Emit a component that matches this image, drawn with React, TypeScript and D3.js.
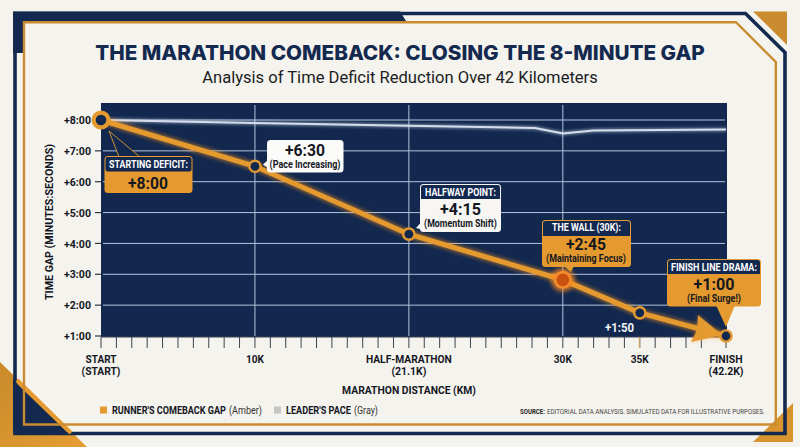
import { useLayoutEffect, useRef, useState } from "react";
import * as d3 from "d3";

const WIDTH = 800;
const HEIGHT = 447;

const NAVY = "#12284f";
const FRAME_NAVY = "#13294f";
const AMBER = "#e59a30";
const FRAME_AMBER = "#cb8c2f";
const PAPER = "#f5f3ee";
const INK = "#14171f";
const GRID = "#b4c4de";

// distance as laid out on the axis (one tick = one unit), the axis is not quite true to km
const AXIS_MAX = 40.6;
const MILESTONES = [0, 10, 20, 30, 35, 40.6];
const MILESTONE_LABELS = [
  ["START", "(START)"],
  ["10K"],
  ["HALF-MARATHON", "(21.1K)"],
  ["30K"],
  ["35K"],
  ["FINISH", "(42.2K)"],
];
const MILESTONE_WIDTHS = [
  [31, 39],
  [18],
  [86, 35],
  [18],
  [18],
  [33, 35],
];

// gap in minutes
const RUNNER_GAP = [8, 6.5, 4.3, 2.82, 1.75, 1];
const LEADER_POS = [0, 10, 20, 28.2, 30, 32, 40.6];
const LEADER_GAP = [8, 7.9, 7.81, 7.74, 7.56, 7.66, 7.69];
const Y_TICKS = [8, 7, 6, 5, 4, 3, 2, 1];
const GRID_MINUTES = [8, 7, 6, 5, 4, 3, 2];
const GRID_KM = [10, 20, 30];

const x = d3.scaleLinear().domain([0, AXIS_MAX]).range([101, 726]);
const y = d3.scaleLinear().domain([8, 1]).range([120, 336]);

type LabelProps = {
  x: number;
  y: number;
  w: number;
  size: number;
  children: string;
  weight?: number;
  fill?: string;
  anchor?: "start" | "middle" | "end";
  family?: string;
  rotate?: number;
};

// no condensed face here, so squeeze the text horizontally to the measured width
const Label = ({ x, y, w, size, children, weight = 700, fill = INK, anchor = "middle", family = "Roboto", rotate = 0 }: LabelProps) => {
  const ref = useRef<SVGTextElement>(null);
  const [sx, setSx] = useState(1);

  useLayoutEffect(() => {
    const natural = ref.current ? ref.current.getComputedTextLength() : 0;
    if (natural > 0) setSx(w / natural);
  }, [w, size, children]);

  return (
    <text
      ref={ref}
      fontSize={size}
      fontWeight={weight}
      fontFamily={family}
      fill={fill}
      textAnchor={anchor}
      transform={`translate(${x},${y}) rotate(${rotate}) scale(${sx},1)`}
    >
      {children}
    </text>
  );
};

const Frame = () => (
  <g>
    <path d="M0,362 L87,447 L0,447 Z" fill="url(#cornerFade)" />
    <path d="M753,442 L793,403 L793,442 Z" fill="#d8942f" />
    <path d="M753,11.5 L787,11.5 L787,45 Z" fill={FRAME_AMBER} />
    {/* heavy top left part of the navy border */}
    <path d="M13,11.5 H400 L406,21 H23 V53 H13 Z" fill={FRAME_NAVY} />
    <path d="M13,380 L68,433 H13 Z" fill={FRAME_NAVY} />
    <path d="M15,13.5 H745.5 L785,52.5 V433.5 H15 Z" fill="none" stroke={FRAME_NAVY} strokeWidth={3.6} />
    <path d="M17,380 L71,433" stroke={AMBER} strokeWidth={4} />
    <path d="M26,396 L54,423 H26 Z" fill={FRAME_NAVY} />
    <path d="M24,22.2 H736 L775.8,62 V424.5 H24 Z" fill="none" stroke={FRAME_AMBER} strokeWidth={2.4} />
  </g>
);

const XAxis = () => (
  <g>
    <line x1={101} x2={726} y1={337} y2={337} stroke="#3a4256" strokeWidth={1} />
    {[...d3.range(0, 40), AXIS_MAX].map((t) => (
      <line key={t} x1={x(t)} x2={x(t)} y1={337} y2={348} stroke="#3d4350" strokeWidth={1} />
    ))}
    <line x1={x(35) - 0.5} x2={x(35) - 0.5} y1={337} y2={348} stroke="#d9b26a" strokeWidth={1} />
    {MILESTONES.map((m, i) =>
      MILESTONE_LABELS[i].map((line, j) => (
        <Label key={line} x={x(m)} y={363 + j * 12} w={MILESTONE_WIDTHS[i][j]} size={11}>
          {line}
        </Label>
      ))
    )}
    <Label x={409} y={394} w={134} size={11.5}>
      MARATHON DISTANCE (KM)
    </Label>
  </g>
);

const YAxis = () => (
  <g>
    {Y_TICKS.map((t) => (
      <g key={t}>
        <line x1={95} x2={101} y1={y(t)} y2={y(t)} stroke="#2d3442" strokeWidth={1.2} />
        <Label x={91} y={y(t) + 4.2} w={27} size={11.5} anchor="end">
          {`+${t}:00`}
        </Label>
      </g>
    ))}
    <Label x={53} y={222} w={156} size={11.5} rotate={-90}>
      TIME GAP (MINUTES:SECONDS)
    </Label>
  </g>
);

const Series = () => {
  const runnerLine = d3
    .line<number>()
    .x((_, i) => x(MILESTONES[i]))
    .y((d) => y(d));
  const leaderLine = d3
    .line<number>()
    .x((_, i) => x(LEADER_POS[i]))
    .y((d) => y(d));
  const runnerPath = runnerLine(RUNNER_GAP) as string;
  const leaderPath = leaderLine(LEADER_GAP) as string;
  const arrow = `M698,315 L${x(AXIS_MAX) - 4},${y(1) - 1} L691,342 L697,330 Z`;

  return (
    <g>
      <path d={leaderPath} fill="none" stroke="#dfe6f2" strokeWidth={4} opacity={0.45} filter="url(#blurSoft)" />
      <path d={leaderPath} fill="none" stroke="#d5ddec" strokeWidth={2} />

      <path d={runnerPath} fill="none" stroke="#ff9a1f" strokeWidth={7} opacity={0.6} filter="url(#blurGlow)" />
      <path d={arrow} fill="#ff9a1f" opacity={0.5} filter="url(#blurGlow)" />
      <path d={runnerPath} fill="none" stroke={AMBER} strokeWidth={5} />
      <path d={arrow} fill={AMBER} />

      {RUNNER_GAP.map((g, i) => {
        const cx = x(MILESTONES[i]);
        const cy = y(g);
        if (i === 3) {
          return (
            <g key={i}>
              <circle cx={cx} cy={cy} r={12} fill="#ff8a1a" opacity={0.7} filter="url(#blurGlow)" />
              <circle cx={cx} cy={cy} r={9} fill="#f28c28" />
              <circle cx={cx} cy={cy} r={6.3} fill="#c9500f" />
            </g>
          );
        }
        const outer = i === 0 ? 9.5 : 6.8;
        const inner = i === 0 ? 5.3 : 4.4;
        return (
          <g key={i}>
            <circle cx={cx} cy={cy} r={outer} fill={AMBER} />
            <circle cx={cx} cy={cy} r={inner} fill={NAVY} />
          </g>
        );
      })}
    </g>
  );
};

const Callouts = () => (
  <g>
    {/* start */}
    <path d="M109,131 L119,157 H140 Z" fill={NAVY} stroke={AMBER} strokeWidth={0.9} />
    <rect x={104.5} y={156} width={88} height={37} rx={3.5} fill={AMBER} />
    <rect x={105.5} y={157} width={86} height={14.5} rx={2} fill={NAVY} />
    <Label x={148.5} y={168} w={79} size={10.5} fill="#fff">STARTING DEFICIT:</Label>
    <Label x={148} y={189} w={40} size={17}>+8:00</Label>

    {/* 10k */}
    <path d="M268,160 L263,164.5 L268,168 Z" fill="#fbfbf9" />
    <rect x={267} y={140} width={76.5} height={32.5} rx={3.5} fill="#fbfbf9" />
    <Label x={305} y={156} w={40} size={16}>+6:30</Label>
    <Label x={305} y={168} w={71} size={10}>(Pace Increasing)</Label>

    {/* halfway */}
    <path d="M424,219 L416,228 L427,231 Z" fill="#f7f6f2" />
    <rect x={420} y={184} width={81} height={48} rx={3.5} fill="#f7f6f2" />
    <path d="M421,199 V187.5 a2.5,2.5 0 0 1 2.5,-2.5 H497.5 a2.5,2.5 0 0 1 2.5,2.5 V199 Z" fill={NAVY} />
    <Label x={460.5} y={196} w={71} size={10.5} fill="#fff">HALFWAY POINT:</Label>
    <Label x={460.5} y={215} w={41} size={16}>+4:15</Label>
    <Label x={460.5} y={227} w={73} size={10}>(Momentum Shift)</Label>

    {/* the wall */}
    <path d="M564,266 L571,272 L574,266 Z" fill={AMBER} />
    <rect x={542} y={220} width={89} height={47} rx={3.5} fill={AMBER} />
    <path d="M543,236 V223.5 a2.5,2.5 0 0 1 2.5,-2.5 H627.5 a2.5,2.5 0 0 1 2.5,2.5 V236 Z" fill={NAVY} />
    <Label x={586.5} y={231} w={69} size={10.5} fill="#fff">THE WALL (30K):</Label>
    <Label x={586} y={250} w={40} size={16}>+2:45</Label>
    <Label x={586} y={262} w={80} size={10}>(Maintaining Focus)</Label>

    <Label x={619.5} y={332} w={29} size={12} fill="#f2f4f8">+1:50</Label>

    {/* finish */}
    <path d="M716,305 L726,327 L735,305 Z" fill={AMBER} />
    <rect x={667} y={259} width={94} height={47.5} rx={3.5} fill={AMBER} />
    <path d="M668,274 V262.5 a2.5,2.5 0 0 1 2.5,-2.5 H757.5 a2.5,2.5 0 0 1 2.5,2.5 V274 Z" fill={NAVY} />
    <Label x={714} y={271} w={86} size={10.5} fill="#fff">FINISH LINE DRAMA:</Label>
    <Label x={714} y={290} w={41} size={16}>+1:00</Label>
    <Label x={714} y={302} w={54} size={10}>(Final Surge!)</Label>
  </g>
);

const Legend = () => (
  <g>
    <rect x={100} y={406.5} width={7} height={7} fill={AMBER} />
    <Label x={112} y={414} w={114} size={11} anchor="start">RUNNER'S COMEBACK GAP</Label>
    <Label x={229} y={414} w={33} size={11} weight={400} anchor="start" fill="#333">(Amber)</Label>
    <rect x={274} y={406.5} width={7} height={7} fill="#c4c4c4" />
    <Label x={286} y={414} w={65} size={11} anchor="start">LEADER'S PACE</Label>
    <Label x={354} y={414} w={24} size={11} weight={400} anchor="start" fill="#333">(Gray)</Label>
    <Label x={520} y={414} w={25} size={7.5} anchor="start" fill="#222">SOURCE:</Label>
    <Label x={547} y={414} w={218} size={7.5} weight={400} anchor="start" fill="#444">
      EDITORIAL DATA ANALYSIS. SIMULATED DATA FOR ILLUSTRATIVE PURPOSES.
    </Label>
  </g>
);

export default function App() {
  return (
    <svg
      width={WIDTH}
      height={HEIGHT}
      viewBox={`0 0 ${WIDTH} ${HEIGHT}`}
      style={{ position: "absolute", left: 0, top: 0, display: "block" }}
    >
      <defs>
        <linearGradient id="cornerFade" x1="0" y1="0" x2="1" y2="1">
          <stop offset="0" stopColor="#c98a2b" />
          <stop offset="1" stopColor="#e59e33" />
        </linearGradient>
        <filter id="blurGlow" x="-20%" y="-20%" width="140%" height="140%">
          <feGaussianBlur stdDeviation="2" />
        </filter>
        <filter id="blurSoft" x="-5%" y="-200%" width="110%" height="500%">
          <feGaussianBlur stdDeviation="1.5" />
        </filter>
      </defs>

      <rect width={WIDTH} height={HEIGHT} fill={PAPER} />
      <Frame />

      <Label x={400} y={60} w={610} size={20.5} weight={800} family="Inter" fill={FRAME_NAVY}>
        THE MARATHON COMEBACK: CLOSING THE 8-MINUTE GAP
      </Label>
      <Label x={400} y={83} w={396} size={17} weight={400} fill="#1b1d22">
        Analysis of Time Deficit Reduction Over 42 Kilometers
      </Label>

      <rect x={101} y={103} width={626} height={234} fill={NAVY} />
      {GRID_MINUTES.map((m) => (
        <line key={m} x1={103} x2={725} y1={y(m)} y2={y(m)} stroke={GRID} strokeWidth={1} />
      ))}
      {GRID_KM.map((k) => (
        <line key={k} x1={x(k)} x2={x(k)} y1={105} y2={336} stroke={GRID} strokeWidth={1} />
      ))}

      <YAxis />
      <XAxis />
      <Series />
      <Callouts />
      <Legend />
    </svg>
  );
}
